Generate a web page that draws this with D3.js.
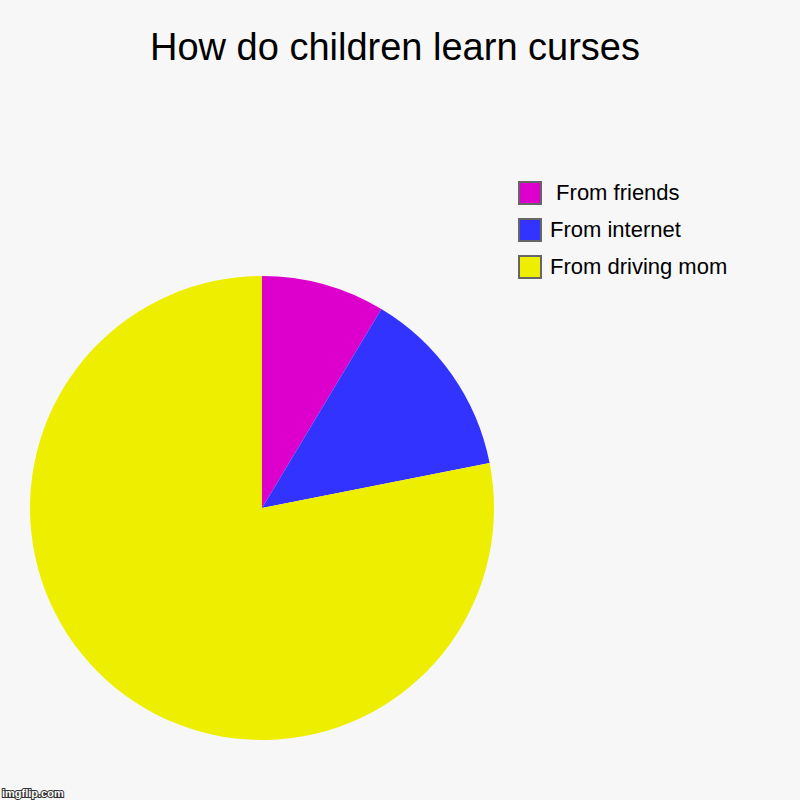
<!DOCTYPE html>
<html>
<head>
<meta charset="utf-8">
<script src="https://cdn.jsdelivr.net/npm/d3@7"></script>
<style>
  body { margin: 0; background: #f7f7f7; }
  svg { display: block; font-family: Arial, "Liberation Sans", sans-serif; }
</style>
</head>
<body>
<div id="chart"></div>
<script>
// data
const categories = [" From friends", "From internet", "From driving mom"];
const values = [8.6, 13.3, 78.1];
const colors = ["#dd00cc", "#3333ff", "#eeee00"];

const W = 800, H = 800;
const cx = 262, cy = 508, radius = 232;

const svg = d3.select("#chart")
  .append("svg")
  .attr("width", W)
  .attr("height", H);

svg.append("rect")
  .attr("width", W)
  .attr("height", H)
  .attr("fill", "#f7f7f7");

// title
svg.append("text")
  .attr("x", 395)
  .attr("y", 60)
  .attr("text-anchor", "middle")
  .style("font-size", "38px")
  .attr("fill", "#000")
  .text("How do children learn curses");

// pie
const pie = d3.pie().sort(null).value(d => d.value);
const arc = d3.arc().innerRadius(0).outerRadius(radius);

const rows = categories.map((c, i) => ({ label: c, value: values[i], color: colors[i] }));

svg.append("g")
  .attr("transform", `translate(${cx},${cy})`)
  .selectAll("path")
  .data(pie(rows))
  .enter()
  .append("path")
  .attr("d", arc)
  .attr("fill", d => d.data.color);

// legend
const legend = svg.append("g")
  .attr("transform", "translate(518,181)");

const item = legend.selectAll(".item")
  .data(rows)
  .enter()
  .append("g")
  .attr("class", "item")
  .attr("transform", (d, i) => `translate(0,${i * 37})`);

item.append("rect")
  .attr("x", 1)
  .attr("y", 1)
  .attr("width", 22)
  .attr("height", 22)
  .attr("fill", d => d.color)
  .attr("stroke", "#666")
  .attr("stroke-width", 2);

item.append("text")
  .attr("x", 32)
  .attr("y", 19)
  .style("font-size", "22px")
  .style("white-space", "pre")
  .attr("xml:space", "preserve")
  .attr("fill", "#000")
  .text(d => d.label);

// watermark
svg.append("text")
  .attr("x", 2)
  .attr("y", 797)
  .style("font-size", "11px")
  .style("font-weight", "bold")
  .attr("fill", "#fff")
  .attr("stroke", "#333")
  .attr("stroke-width", 2)
  .attr("paint-order", "stroke")
  .text("imgflip.com");
</script>
</body>
</html>
